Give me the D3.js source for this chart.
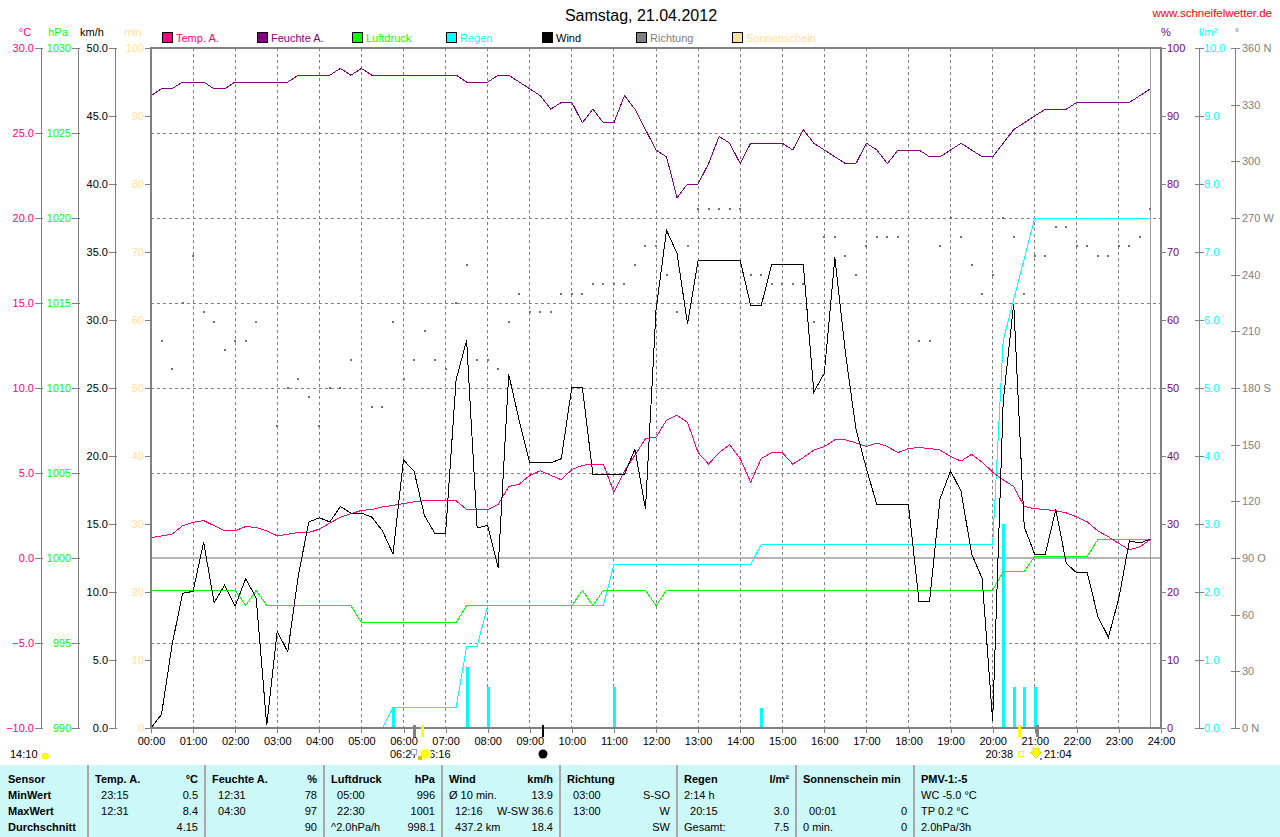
<!DOCTYPE html>
<html><head><meta charset="utf-8">
<script src="https://cdn.jsdelivr.net/npm/d3@7"></script>
<style>
body{margin:0;background:#fff}
svg{display:block}
text{font-family:"Liberation Sans",Arial,sans-serif;font-size:11px;white-space:pre}
</style>
</head><body>
<svg id="c" width="1280" height="837"></svg>
<script>
// ---------------- DATA ----------------
const times = ["00:00","00:15","00:30","00:45","01:00","01:15","01:30","01:45","02:00","02:15","02:30","02:45",
"03:00","03:15","03:30","03:45","04:00","04:15","04:30","04:45","05:00","05:15","05:30","05:45",
"06:00","06:15","06:30","06:45","07:00","07:15","07:30","07:45","08:00","08:15","08:30","08:45",
"09:00","09:15","09:30","09:45","10:00","10:15","10:30","10:45","11:00","11:15","11:30","11:45",
"12:00","12:15","12:30","12:45","13:00","13:15","13:30","13:45","14:00","14:15","14:30","14:45",
"15:00","15:15","15:30","15:45","16:00","16:15","16:30","16:45","17:00","17:15","17:30","17:45",
"18:00","18:15","18:30","18:45","19:00","19:15","19:30","19:45","20:00","20:15","20:30","20:45",
"21:00","21:15","21:30","21:45","22:00","22:15","22:30","22:45","23:00","23:15","23:30","23:45"];

const temperature = [1.2,1.3,1.4,1.9, 2.1,2.2,1.9,1.6, 1.6,1.85,1.8,1.6, 1.3,1.4,1.5,1.5,
 1.7,2.05,2.4,2.6, 2.8,2.85,3.0,3.1, 3.2,3.3,3.37,3.37, 3.37,3.37,2.85,2.83,
 2.83,3.15,4.2,4.34, 4.86,5.13,4.86,4.6, 5.2,5.45,5.52,5.52, 3.87,5.13,6.05,7.02,
 7.1,8.1,8.4,7.97, 6.2,5.52,6.2,6.66, 5.85,4.46,5.85,6.2, 6.2,5.52,5.9,6.35,
 6.55,6.95,6.95,6.77, 6.55,6.77,6.55,6.2, 6.44,6.5,6.44,6.35, 5.97,5.7,6.1,5.64,
 5.05,4.6,4.2,3.03, 2.9,2.85,2.78,2.65, 2.42,2.12,1.59,1.25, 0.85,0.48,0.66,1.1];

const humidity = [93,94,94,95, 95,95,94,94, 95,95,95,95, 95,95,96,96, 96,96,97,96, 97,96,96,96,
 96,96,96,96, 96,96,95,95, 95,96,96,95, 94,93,91,92, 92,89,91,89, 89,93,91,88,
 85,84,78,80, 80,83,87,86, 83,86,86,86, 86,85,88,86, 85,84,83,83, 86,85,83,85,
 85,85,84,84, 85,86,85,84, 84,86,88,89, 90,91,91,91, 92,92,92,92, 92,92,93,94];

const pressure = [998.1,998.1,998.1,998.1, 998.1,998.1,998.1,998.1, 998.1,997.2,998.1,997.2,
 997.2,997.2,997.2,997.2, 997.2,997.2,997.2,997.2, 996.2,996.2,996.2,996.2,
 996.2,996.2,996.2,996.2, 996.2,996.2,997.2,997.2, 997.2,997.2,997.2,997.2,
 997.2,997.2,997.2,997.2, 997.2,998.1,997.2,998.1, 998.1,998.1,998.1,998.1,
 997.2,998.1,998.1,998.1, 998.1,998.1,998.1,998.1, 998.1,998.1,998.1,998.1,
 998.1,998.1,998.1,998.1, 998.1,998.1,998.1,998.1, 998.1,998.1,998.1,998.1,
 998.1,998.1,998.1,998.1, 998.1,998.1,998.1,998.1, 998.1,999.2,999.2,999.2,
 1000.1,1000.1,1000.1,1000.1, 1000.1,1000.1,1001.1,1001.1, 1001.1,1001.1,1001.1,1001.1];

const wind = [0,1.0,6.1,9.9, 10.05,13.66,9.23,10.5, 8.97,10.97,9.56,0.2, 7.1,5.6,11.2,15.15,
 15.46,15.15,16.29,15.8, 15.8,15.5,14.5,12.8, 19.7,18.9,15.6,14.3, 14.3,25.6,28.5,14.7,
 14.9,11.8,26.0,22.6, 19.5,19.5,19.5,19.8, 25.05,25.05,18.65,18.65, 18.65,18.65,20.5,16.1,
 30.7,36.6,34.9,29.7, 34.4,34.4,34.4,34.4, 34.4,31.06,31.06,34.1, 34.1,34.1,34.1,24.7,
 26.1,34.6,27.6,22.0, 19.07,16.4,16.4,16.4, 16.4,9.3,9.3,16.85, 18.9,17.4,12.8,11.0,
 0.5,24.0,31.2,14.8, 12.77,12.77,16.06,12.1, 11.4,11.4,8.2,6.67, 9.56,13.76,13.6,13.9];

const rainTotal = [0,0,0,0, 0,0,0,0, 0,0,0,0, 0,0,0,0, 0,0,0,0, 0,0,0,0.3,
 0.3,0.3,0.3,0.3, 0.3,0.3,1.2,1.2, 1.8,1.8,1.8,1.8, 1.8,1.8,1.8,1.8, 1.8,1.8,1.8,1.8,
 2.4,2.4,2.4,2.4, 2.4,2.4,2.4,2.4, 2.4,2.4,2.4,2.4, 2.4,2.4,2.7,2.7,
 2.7,2.7,2.7,2.7, 2.7,2.7,2.7,2.7, 2.7,2.7,2.7,2.7, 2.7,2.7,2.7,2.7, 2.7,2.7,2.7,2.7,
 2.7,5.7,6.3,6.9, 7.5,7.5,7.5,7.5, 7.5,7.5,7.5,7.5, 7.5,7.5,7.5,7.5];

const rainTimes = ["05:45","07:30","08:00","11:00","14:30","20:15","20:30","20:45","21:00"];
const rainAmounts = [0.3,0.9,0.6,0.6,0.3,3.0,0.6,0.6,0.6];

const direction = [null,205,190,225, 250,220,215,200, 205,205,215,null, 160,180,185,175,
 160,180,180,195, null,170,170,215, 185,195,210,195, 190,225,245,195,
 195,190,215,230, 220,220,220,230, 230,230,235,235, 235,235,245,255,
 255,240,220,255, 275,275,275,275, 275,240,240,235, 235,235,235,215,
 260,260,250,240, 255,260,260,260, null,205,205,255, 270,260,245,230,
 240,270,260,230, 250,250,265,265, 255,255,250,250, 255,255,260,275];

const hourLabels = ["00:00","01:00","02:00","03:00","04:00","05:00","06:00","07:00","08:00","09:00","10:00","11:00","12:00",
 "13:00","14:00","15:00","16:00","17:00","18:00","19:00","20:00","21:00","22:00","23:00","24:00"];
const tempTicks = [-10,-5,0,5,10,15,20,25,30];
const pressTicks = [990,995,1000,1005,1010,1015,1020,1025,1030];
const windTicks = [0,5,10,15,20,25,30,35,40,45,50];
const sunTicks = [0,10,20,30,40,50,60,70,80,90,100];
const humTicks = [0,10,20,30,40,50,60,70,80,90,100];
const rainTicks = [0,1,2,3,4,5,6,7,8,9,10];
const dirTicks = [0,30,60,90,120,150,180,210,240,270,300,330,360];
const dirNames = {0:"0 N",90:"90 O",180:"180 S",270:"270 W",360:"360 N"};

const legendNames = ["Temp. A.","Feuchte A.","Luftdruck","Regen","Wind","Richtung","Sonnenschein"];
const title = "Samstag, 21.04.2012";
const site = "www.schneifelwetter.de";
const lastTime = "23:45";
const eventTimes = ["06:16","06:27","09:19","20:38","21:04"];
const eventLabels = ["06:27","06:16","20:38","21:04"];
const updateTime = "14:10";

const rowLabels = ["Sensor","MinWert","MaxWert","Durchschnitt"];
const tableHeader = ["Temp. A.","Feuchte A.","Luftdruck","Wind","Richtung","Regen","Sonnenschein min","PMV-1:-5"];
const tableUnits = ["°C","%","hPa","km/h","","l/m²","",""];
const tableLeft = [
 ["  23:15","  12:31",""],
 ["  12:31","  04:30",""],
 ["  05:00","  22:30","^2.0hPa/h"],
 ["Ø 10 min.","  12:16","  437.2 km"],
 ["  03:00","  13:00",""],
 ["2:14 h","  20:15","Gesamt:"],
 ["","  00:01","0 min."],
 ["WC -5.0 °C","TP 0.2 °C","2.0hPa/3h"]];
const tableRight = [
 ["0.5","8.4","4.15"],["78","97","90"],["996","1001","998.1"],["13.9","W-SW 36.6","18.4"],
 ["S-SO","W","SW"],["","3.0","7.5"],["","0","0"],["","",""]];

// ---------------- LAYOUT ----------------
const svg = d3.select("#c");
const TOP = 48, BOT = 728, LEFT = 151, RIGHT = 1161;
const tp = s => { const [h,m] = s.split(":").map(Number); return h + m/60; };
const x = d3.scaleLinear().domain([0,24]).range([LEFT, RIGHT]);
const yT = d3.scaleLinear().domain([-10,30]).range([BOT,TOP]);
const yP = d3.scaleLinear().domain([990,1030]).range([BOT,TOP]);
const yW = d3.scaleLinear().domain([0,50]).range([BOT,TOP]);
const yS = d3.scaleLinear().domain([0,100]).range([BOT,TOP]);
const yH = d3.scaleLinear().domain([0,100]).range([BOT,TOP]);
const yR = d3.scaleLinear().domain([0,10]).range([BOT,TOP]);
const yD = d3.scaleLinear().domain([0,360]).range([BOT,TOP]);

const C = {temp:"#ff0080", hum:"#800080", press:"#00ff00", rain:"#00ffff", wind:"#000000", dir:"#808080", sun:"#ffe0a0", grid:"#808080"};

svg.append("rect").attr("width",1280).attr("height",837).attr("fill","#fff");

// title + site
svg.append("text").attr("x",641).attr("y",21).attr("text-anchor","middle").style("font-size","16px").text(title);
svg.append("text").attr("x",1272).attr("y",17).attr("text-anchor","end").attr("fill","#ff0000").style("font-size","11.5px").text(site);

// legend
const legColors = [C.temp,C.hum,C.press,C.rain,C.wind,C.dir,C.sun];
const legX = [162,257,352,446,542,636,732];
legendNames.forEach((n,i)=>{
  svg.append("rect").attr("x",legX[i]+0.5).attr("y",32.5).attr("width",10).attr("height",10)
    .attr("fill",legColors[i]).attr("stroke","#000");
  svg.append("text").attr("x",legX[i]+14).attr("y",42).attr("fill",i===4?"#000":legColors[i]).text(n);
});

// unit labels
[["°C",25,C.temp],["hPa",58,C.press],["km/h",92,"#000"],["min",133,C.sun],["%",1166,C.hum],["l/m²",1208,C.rain],["°",1237,C.dir]]
 .forEach(([t,px,c])=>svg.append("text").attr("x",px).attr("y",36).attr("text-anchor","middle").attr("fill",c).text(t));

// grid
const g = svg.append("g").attr("shape-rendering","crispEdges");
hourLabels.slice(1,24).forEach(h=>{
  g.append("line").attr("x1",x(tp(h))).attr("x2",x(tp(h))).attr("y1",TOP).attr("y2",BOT)
   .attr("stroke",C.grid).attr("stroke-dasharray","3,3");
});
tempTicks.filter(t=>t!==-10 && t!==30 && t!==0).forEach(t=>{
  g.append("line").attr("x1",LEFT).attr("x2",RIGHT).attr("y1",yT(t)).attr("y2",yT(t))
   .attr("stroke",C.grid).attr("stroke-dasharray","3,3");
});
g.append("line").attr("x1",LEFT).attr("x2",RIGHT).attr("y1",yT(0)).attr("y2",yT(0)).attr("stroke","#b4b4b4").attr("stroke-width",2);
g.append("line").attr("x1",x(tp(lastTime))).attr("x2",x(tp(lastTime))).attr("y1",TOP).attr("y2",BOT).attr("stroke","#a0a0a0").attr("stroke-width",1.5);

// series
const pts = arr => arr.map((v,i)=>({t:tp(times[i]),v}));
const lineGen = y => d3.line().defined(d=>d.v!==null).x(d=>x(d.t)).y(d=>y(d.v));
const s = svg.append("g").attr("fill","none").attr("shape-rendering","crispEdges");

s.selectAll("rect.rb").data(rainTimes.map((t,i)=>({t:tp(t),v:rainAmounts[i]}))).join("rect")
 .attr("x",d=>x(d.t)-1).attr("width",3).attr("y",d=>yR(d.v)).attr("height",d=>BOT-yR(d.v)).attr("fill",C.rain);
s.append("path").attr("d",lineGen(yR)(pts(rainTotal))).attr("stroke",C.rain);
s.append("path").attr("d",lineGen(yP)(pts(pressure))).attr("stroke",C.press);
s.append("path").attr("d",lineGen(yH)(pts(humidity))).attr("stroke",C.hum);
s.append("path").attr("d",lineGen(yT)(pts(temperature))).attr("stroke",C.temp);
s.append("path").attr("d",lineGen(yW)(pts(wind))).attr("stroke",C.wind);
s.selectAll("rect.dir").data(pts(direction).filter(d=>d.v!==null)).join("rect")
 .attr("x",d=>x(d.t)-1).attr("y",d=>yD(d.v)-1).attr("width",2).attr("height",2).attr("fill","#707070");

// frame
const f = svg.append("g").attr("stroke","#808080").attr("shape-rendering","crispEdges");
f.append("line").attr("x1",LEFT).attr("x2",LEFT).attr("y1",TOP-1).attr("y2",BOT+1).attr("stroke-width",2);
f.append("line").attr("x1",RIGHT).attr("x2",RIGHT).attr("y1",TOP-1).attr("y2",BOT+1).attr("stroke-width",2);
f.append("line").attr("x1",LEFT).attr("x2",RIGHT).attr("y1",TOP).attr("y2",TOP).attr("stroke-width",2);
f.append("line").attr("x1",LEFT).attr("x2",RIGHT).attr("y1",BOT).attr("y2",BOT).attr("stroke-width",2);

// axes
function leftAxis(scale, ticks, fmt, px, color, drawLine){
  const a = svg.append("g").attr("transform",`translate(${px},0)`)
    .call(d3.axisLeft(scale).tickValues(ticks).tickFormat(fmt).tickSizeInner(6).tickSizeOuter(0).tickPadding(1));
  a.select(".domain").remove();
  a.selectAll("line").attr("stroke","#808080").attr("x2",-6).attr("x1",drawLine?2:0).attr("shape-rendering","crispEdges");
  a.selectAll("text").attr("fill",color).style("font-family",null).attr("font-size",null);
  a.attr("font-family",null).attr("font-size",null);
  if(drawLine) svg.append("line").attr("x1",px).attr("x2",px).attr("y1",TOP).attr("y2",BOT).attr("stroke","#808080").attr("shape-rendering","crispEdges");
}
function rightAxis(scale, ticks, fmt, px, color, drawLine, pad){
  const a = svg.append("g").attr("transform",`translate(${px},0)`)
    .call(d3.axisRight(scale).tickValues(ticks).tickFormat(fmt).tickSizeInner(5).tickSizeOuter(0).tickPadding(pad));
  a.select(".domain").remove();
  a.selectAll("line").attr("stroke","#808080").attr("x1",drawLine?-4:0).attr("shape-rendering","crispEdges");
  a.selectAll("text").attr("fill",color);
  a.attr("font-family",null).attr("font-size",null);
  if(drawLine) svg.append("line").attr("x1",px).attr("x2",px).attr("y1",TOP).attr("y2",BOT).attr("stroke","#808080").attr("shape-rendering","crispEdges");
}
leftAxis(yT, tempTicks, d3.format(".1f"), 41, C.temp, true);
leftAxis(yP, pressTicks, d3.format("d"), 78, C.press, true);
leftAxis(yW, windTicks, d3.format(".1f"), 115, "#000", true);
leftAxis(yS, sunTicks, d3.format("d"), LEFT, C.sun, false);
rightAxis(yH, humTicks, d3.format("d"), RIGHT, C.hum, false, 1);
rightAxis(yR, rainTicks, d3.format(".1f"), 1199, C.rain, true, 0);
rightAxis(yD, dirTicks, d=>dirNames[d]||String(d), 1235, C.dir, true, 2);

// x axis
const xa = svg.append("g").attr("transform",`translate(0,${BOT})`)
  .call(d3.axisBottom(x).tickValues(hourLabels.map(tp)).tickFormat((d,i)=>hourLabels[i]).tickSizeInner(5).tickSizeOuter(0).tickPadding(4));
xa.select(".domain").remove();
xa.selectAll("line").attr("stroke","#808080").attr("shape-rendering","crispEdges");
xa.attr("font-family",null).attr("font-size",null);

// event markers below axis
const evColors = ["#808080","#ffff00","#000000","#ffff00","#808080"];
eventTimes.forEach((t,i)=>{
  svg.append("line").attr("x1",x(tp(t))).attr("x2",x(tp(t))).attr("y1",BOT-3).attr("y2",BOT+9)
   .attr("stroke",evColors[i]).attr("stroke-width",2.5).attr("shape-rendering","crispEdges");
});
svg.append("text").attr("x",390).attr("y",758).text(eventLabels[0]);
svg.append("text").attr("x",423).attr("y",758).text(eventLabels[1]);
svg.append("rect").attr("x",411.5).attr("y",749.5).attr("width",5).attr("height",5).attr("fill","#fff").attr("stroke","#a0a0e0");
svg.append("circle").attr("cx",425).attr("cy",754).attr("r",6.5).attr("fill","#ffffa0");
svg.append("circle").attr("cx",425).attr("cy",754).attr("r",4).attr("fill","#ffff00");
svg.append("rect").attr("x",418).attr("y",756).attr("width",4).attr("height",4).attr("fill","#e0c000");
svg.append("circle").attr("cx",543).attr("cy",754).attr("r",4.5).attr("fill","#000");
svg.append("text").attr("x",1013).attr("y",758).attr("text-anchor","end").text(eventLabels[2]);
svg.append("rect").attr("x",1018.5).attr("y",751.5).attr("width",5).attr("height",5).attr("fill","none").attr("stroke","#ffff00");
svg.append("path").attr("d","M1033,748 h6 v4 h3 l-6,6 l-6,-6 h3 z").attr("fill","#ffff00").attr("stroke","#c0a000").attr("stroke-width",0.5);
svg.append("rect").attr("x",1040).attr("y",758).attr("width",2).attr("height",2).attr("fill","#8080c0");
svg.append("text").attr("x",1044).attr("y",758).text(eventLabels[3]);
svg.append("text").attr("x",10).attr("y",758).text(updateTime);
svg.append("ellipse").attr("cx",45).attr("cy",756).attr("rx",4).attr("ry",3).attr("fill","#ffff00");

// table
svg.append("rect").attr("x",0).attr("y",765).attr("width",1280).attr("height",72).attr("fill","#ccf8f8");
const seps = [88,205,324,442,560,677,796,914];
seps.forEach(sx=>svg.append("line").attr("x1",sx).attr("x2",sx).attr("y1",765).attr("y2",837).attr("stroke","#a8a8a8").attr("stroke-width",2));
const rowY = [783,799,815,831];
rowLabels.forEach((r,i)=>svg.append("text").attr("x",8).attr("y",rowY[i]).style("font-weight","bold").text(r));
tableHeader.forEach((h,c)=>{
  const x0 = seps[c]+7, x1 = (c+1<seps.length? seps[c+1] : 1033)-7;
  svg.append("text").attr("x",x0).attr("y",rowY[0]).style("font-weight","bold").text(h);
  if(tableUnits[c]) svg.append("text").attr("x",x1).attr("y",rowY[0]).attr("text-anchor","end").style("font-weight","bold").text(tableUnits[c]);
  tableLeft[c].forEach((t,r)=>{ if(t) svg.append("text").attr("x",x0).attr("y",rowY[r+1]).text(t); });
  tableRight[c].forEach((t,r)=>{ if(t) svg.append("text").attr("x",x1).attr("y",rowY[r+1]).attr("text-anchor","end").text(t); });
});
</script>
</body></html>
